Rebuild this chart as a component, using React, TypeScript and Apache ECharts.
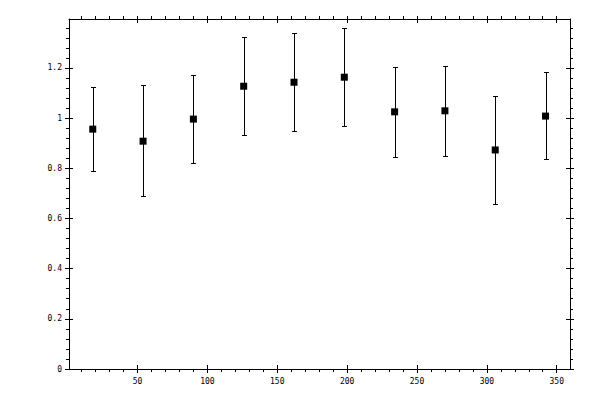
import React, { useEffect, useRef } from "react";
import * as echarts from "echarts";

const angles = [18, 54, 90, 126, 162, 198, 234, 270, 306, 342];
const ratios = [0.956, 0.908, 0.996, 1.127, 1.143, 1.163, 1.025, 1.029, 0.873, 1.008];
const lowers = [0.789, 0.689, 0.821, 0.932, 0.948, 0.968, 0.844, 0.85, 0.658, 0.837];
const uppers = [1.123, 1.131, 1.171, 1.322, 1.338, 1.358, 1.203, 1.207, 1.088, 1.184];
const xTickValues = [50, 100, 150, 200, 250, 300, 350];
const yTickValues = [0, 0.2, 0.4, 0.6, 0.8, 1, 1.2];

const X_MIN = 1;
const X_MAX = 359.5;
const Y_MIN = 0;
const Y_MAX = 1.395;

const FONT = "DejaVu Sans Mono";
const BLACK = "#000";

function makeX(position: "top" | "bottom", inside: boolean, withLabels: boolean) {
  return {
    type: "value",
    position,
    min: X_MIN,
    max: X_MAX,
    splitNumber: 7,
    axisLine: { show: !inside, onZero: false, lineStyle: { color: BLACK, width: 1 } },
    axisTick: {
      show: true,
      inside,
      length: inside ? 4 : position === "top" ? 3 : 4,
      customValues: xTickValues,
      lineStyle: { color: BLACK, width: 1 },
    },
    minorTick: {
      show: !inside,
      splitNumber: 5,
      length: 3,
      lineStyle: { color: BLACK, width: 1 },
    },
    axisLabel: {
      show: withLabels,
      customValues: xTickValues,
      margin: 8,
      color: BLACK,
      fontFamily: FONT,
      fontSize: 8,
    },
    splitLine: { show: false },
    minorSplitLine: { show: false },
  };
}

function makeY(position: "left" | "right", inside: boolean, withLabels: boolean) {
  return {
    type: "value",
    position,
    min: Y_MIN,
    max: Y_MAX,
    splitNumber: 7,
    axisLine: { show: !inside, onZero: false, lineStyle: { color: BLACK, width: 1 } },
    axisTick: {
      show: true,
      inside,
      length: 4,
      customValues: yTickValues,
      lineStyle: { color: BLACK, width: 1 },
    },
    minorTick: {
      show: !inside,
      splitNumber: 5,
      length: 3,
      lineStyle: { color: BLACK, width: 1 },
    },
    axisLabel: {
      show: withLabels,
      customValues: yTickValues,
      margin: 7,
      color: BLACK,
      fontFamily: FONT,
      fontSize: 8,
    },
    splitLine: { show: false },
    minorSplitLine: { show: false },
  };
}

export default function App() {
  const ref = useRef<HTMLDivElement>(null);

  useEffect(() => {
    document.body.style.margin = "0";
    if (!ref.current) return;
    const chart = echarts.init(ref.current, null, { renderer: "svg" });

    const barData = angles.map((a, i) => [a, lowers[i], uppers[i]]);
    const pointData = angles.map((a, i) => [a, ratios[i]]);

    chart.setOption({
      animation: false,
      backgroundColor: "#fff",
      grid: { left: 69, top: 19, width: 501, height: 350, containLabel: false },
      xAxis: [
        makeX("bottom", false, true),
        makeX("bottom", true, false),
        makeX("top", false, false),
        makeX("top", true, false),
      ],
      yAxis: [
        makeY("left", false, true),
        makeY("left", true, false),
        makeY("right", false, false),
        makeY("right", true, false),
      ],
      series: [
        {
          type: "custom",
          xAxisIndex: 0,
          yAxisIndex: 0,
          data: barData,
          renderItem: (params: any, api: any) => {
            const x = api.value(0);
            const lo = api.coord([x, api.value(1)]);
            const hi = api.coord([x, api.value(2)]);
            const cx = Math.round(lo[0]) + 0.5;
            const yl = Math.round(lo[1]) + 0.5;
            const yh = Math.round(hi[1]) + 0.5;
            const hw = 2.5;
            const style = { stroke: BLACK, lineWidth: 1, fill: null };
            return {
              type: "group",
              children: [
                { type: "line", shape: { x1: cx, y1: yl, x2: cx, y2: yh }, style },
                { type: "line", shape: { x1: cx - hw, y1: yh, x2: cx + hw, y2: yh }, style },
                { type: "line", shape: { x1: cx - hw, y1: yl, x2: cx + hw, y2: yl }, style },
              ],
            };
          },
          z: 2,
        },
        {
          type: "scatter",
          xAxisIndex: 0,
          yAxisIndex: 0,
          data: pointData,
          symbol: "rect",
          symbolSize: 7,
          itemStyle: { color: BLACK, opacity: 1 },
          z: 3,
        },
      ],
    });

    return () => chart.dispose();
  }, []);

  return <div ref={ref} style={{ width: 600, height: 400 }} />;
}
